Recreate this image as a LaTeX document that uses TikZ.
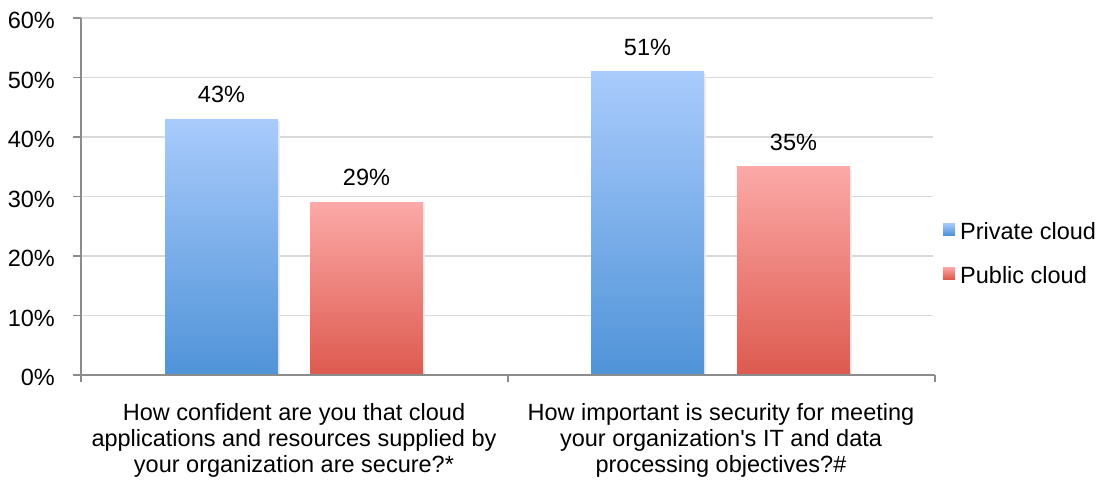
\documentclass[tikz,border=0pt]{standalone}
\usepackage{fontspec}
\setmainfont{Liberation Sans}
\definecolor{privtop}{HTML}{A9CBFC}
\definecolor{privbot}{HTML}{4F93D8}
\definecolor{pubtop}{HTML}{FCA9A7}
\definecolor{pubbot}{HTML}{DD5A4F}
\definecolor{gridgray}{HTML}{D9D9D9}
\definecolor{axisgray}{HTML}{8C8C8C}
\tikzset{
  grid line/.style={color=gridgray,line width=1.3pt},
  axis line/.style={color=axisgray,line width=1.5pt},
  txt/.style={inner sep=0pt,font=\fontsize{23.5}{26.3}\selectfont},
  private/.style={top color=privtop,bottom color=privbot},
  public/.style={top color=pubtop,bottom color=pubbot},
}
\begin{document}
\begin{tikzpicture}[x=1pt,y=-1pt]
\useasboundingbox (0,0) rectangle (1104,485);
% grid and y labels
\foreach \v in {10,20,...,60}
  \draw[grid line] (81,{375-5.95*\v}) -- (933,{375-5.95*\v});
\foreach \v in {0,10,...,60}{
  \draw[axis line] (73,{375-5.95*\v}) -- (81,{375-5.95*\v});
  \node[txt,anchor=base east] (y\v) at (55,{385.5-5.95*\v}) {\v\%};
}

% bars
\foreach \name/\x/\v/\sty in {a/165/43/private,b/310/29/public,c/591/51/private,d/737/35/public}{
  \fill[black!7] (\x+2,{377-5.95*\v}) rectangle (\x+115,375);
  \shade[\sty] (\x,{375-5.95*\v}) rectangle (\x+113,375);
  \node[txt,anchor=base] (\name) at (\x+56.5,{358.5-5.95*\v}) {\v\%};
}

% axes
\draw[axis line] (81,18) -- (81,375) -- (935,375);
\foreach \x in {81,508,935}
  \draw[axis line] (\x,375) -- (\x,382);

\node[txt,align=center,anchor=north] (q1) at (294,403) {How confident are you that cloud\\applications and resources supplied by\\your organization are secure?*};
\node[txt,align=center,anchor=north] (q2) at (721,403) {How important is security for meeting\\your organization\textquotesingle s IT and data\\processing objectives?\#};

% legend
\shade[private] (943,223) rectangle (955,235);
\node[txt,anchor=base west] (leg1) at (960,239) {Private cloud};
\shade[public] (943,267) rectangle (955,279);
\node[txt,anchor=base west] (leg2) at (960,283) {Public cloud};
\end{tikzpicture}
\end{document}
